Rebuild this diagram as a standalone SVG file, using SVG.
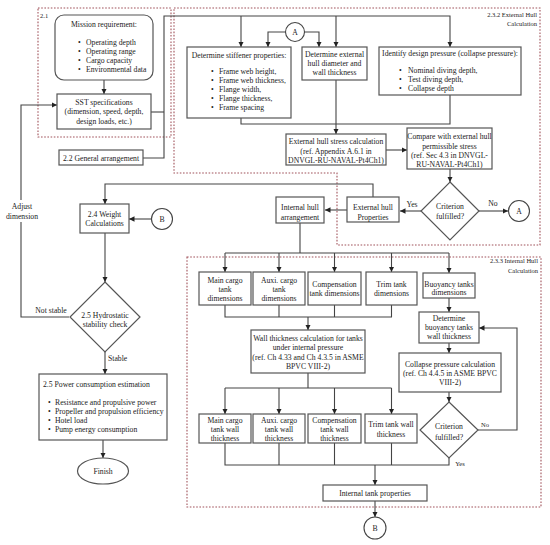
<svg xmlns="http://www.w3.org/2000/svg" width="550" height="545" viewBox="0 0 550 545">
<style>
text{font-family:"Liberation Serif","Times New Roman",serif;font-size:7.7px;fill:#222}
.m{text-anchor:middle}
.e{text-anchor:end}
.box{fill:#fff;stroke:#555;stroke-width:1.2}
.grp{fill:none;stroke:#a0525a;stroke-width:1.1;stroke-dasharray:1.6,1.6}
.ln{fill:none;stroke:#444;stroke-width:1.1}
.arr{fill:none;stroke:#444;stroke-width:1.1;marker-end:url(#ah)}
.sm{font-size:6.5px}
</style>
<defs>
<marker id="ah" viewBox="0 0 10 10" refX="10" refY="5" markerWidth="5.5" markerHeight="5.5" markerUnits="userSpaceOnUse" orient="auto"><path d="M0,0 L10,5 L0,10 z" fill="#222"/></marker>
</defs>
<rect width="550" height="545" fill="#fff"/>

<g id="groups">
<rect class="grp" x="38" y="8" width="133" height="129"/>
<path class="grp" d="M174,8 H540 V245 H337 V173 H174 Z"/>
<rect class="grp" x="187" y="257" width="354" height="250"/>
<text class="sm" x="40" y="17.5">2.1</text>
<text class="sm e" x="537" y="16.7">2.3.2 External Hull</text>
<text class="sm e" x="537" y="26">Calculation</text>
<text class="sm e" x="538" y="263.4">2.3.3 Internal Hull</text>
<text class="sm e" x="538" y="273.4">Calculation</text>
</g>

<g id="connectors">
<path class="arr" d="M104,80 V94"/>
<path class="arr" d="M69,317 H21 V105 H57"/>
<path class="ln" d="M151,112 H164"/>
<path class="arr" d="M143,158 H164 V16 H450 V47"/>
<path class="arr" d="M241,16 V47"/>
<path class="arr" d="M336,16 V47"/>
<path class="arr" d="M285.5,32 H268 V47"/>
<path class="arr" d="M304.5,32 H319 V47"/>
<path class="ln" d="M241,118 V124 H450 V95"/>
<path class="arr" d="M336,80 V134"/>
<path class="arr" d="M386,150 H407"/>
<path class="arr" d="M450,168 V182"/>
<path class="arr" d="M421,211 H400"/>
<path class="arr" d="M479,211 H508"/>
<path class="arr" d="M373,197 V184 H105 V204"/>
<path class="arr" d="M347,210 H325"/>
<path class="ln" d="M300,223 V253 M225,253 H449"/>
<path class="arr" d="M225,253 V272"/>
<path class="arr" d="M279,253 V272"/>
<path class="arr" d="M334.5,253 V272"/>
<path class="arr" d="M391.5,253 V272"/>
<path class="arr" d="M449,253 V273"/>
<path class="ln" d="M225,305 V317 H391.5 V305 M279,305 V317 M334.5,305 V317"/>
<path class="arr" d="M308,317 V330"/>
<path class="ln" d="M308,373 V388 M225,388 H391.5"/>
<path class="arr" d="M225,388 V414"/>
<path class="arr" d="M279,388 V414"/>
<path class="arr" d="M334.5,388 V414"/>
<path class="arr" d="M391.5,388 V414"/>
<path class="ln" d="M225,443 V465 H449 V458 M279,443 V465 M334.5,443 V465 M391.5,443 V465"/>
<path class="arr" d="M375,465 V485"/>
<path class="arr" d="M375,501 V517"/>
<path class="arr" d="M449,298 V312"/>
<path class="arr" d="M449,343 V353"/>
<path class="arr" d="M449,392 V402"/>
<path class="arr" d="M478,430 H517 V328 H479"/>
<path class="arr" d="M151,219 H129"/>
<path class="arr" d="M105,233 V282"/>
<path class="arr" d="M105,352 V374"/>
<path class="arr" d="M103,440 V458"/>
<rect x="6" y="200" width="32" height="22" fill="#fff"/>
<text class="m" x="22" y="209.4">Adjust</text>
<text class="m" x="22" y="219.4">dimension</text>
<text class="m" x="51" y="312.7">Not stable</text>
<text x="108" y="360.5">Stable</text>
<text class="m" x="412" y="206.5">Yes</text>
<text class="m" x="493" y="205.7">No</text>
<text class="sm m" x="485" y="426.5">No</text>
<text class="sm m" x="460" y="465.5">Yes</text>
</g>

<g id="mission">
<rect class="box" x="55" y="15" width="98" height="65" rx="9"/>
<text class="m" x="104" y="27">Mission requirement:</text>
<text x="78" y="44.5">•</text><text x="86" y="44.5">Operating depth</text>
<text x="78" y="53.5">•</text><text x="86" y="53.5">Operating range</text>
<text x="78" y="62.5">•</text><text x="86" y="62.5">Cargo capacity</text>
<text x="78" y="71.5">•</text><text x="86" y="71.5">Environmental data</text>
</g>

<g id="sst">
<rect class="box" x="57" y="94" width="94" height="35"/>
<text class="m" x="104" y="104.5">SST specifications</text>
<text class="m" x="104" y="114">(dimension, speed, depth,</text>
<text class="m" x="104" y="123.5">design loads, etc.)</text>
</g>

<g id="general">
<rect class="box" x="59" y="150" width="84" height="15"/>
<text class="m" x="101" y="160.7">2.2 General arrangement</text>
</g>

<g id="connA1">
<circle cx="295" cy="32" r="9.5" fill="#fff" stroke="#444" stroke-width="1.1"/>
<text class="m" x="295" y="34.7">A</text>
</g>

<g id="stiffener">
<rect class="box" x="187" y="47" width="104" height="71"/>
<text class="m" x="239" y="57.5">Determine stiffener properties:</text>
<text x="211" y="73.5">•</text><text x="219" y="73.5">Frame web height,</text>
<text x="211" y="82.6">•</text><text x="219" y="82.6">Frame web thickness,</text>
<text x="211" y="91.7">•</text><text x="219" y="91.7">Flange width,</text>
<text x="211" y="100.8">•</text><text x="219" y="100.8">Flange thickness,</text>
<text x="211" y="109.9">•</text><text x="219" y="109.9">Frame spacing</text>
</g>

<g id="extdiam">
<rect class="box" x="302" y="47" width="65" height="33"/>
<text class="m" x="334.5" y="57">Determine external</text>
<text class="m" x="334.5" y="66">hull diameter and</text>
<text class="m" x="334.5" y="75.3">wall thickness</text>
</g>

<g id="designpressure">
<rect class="box" x="379" y="47" width="142" height="48"/>
<text class="m" x="450" y="56">Identify design pressure (collapse pressure):</text>
<text x="399" y="72.7">•</text><text x="408" y="72.7">Nominal diving depth,</text>
<text x="399" y="82">•</text><text x="408" y="82">Test diving depth,</text>
<text x="399" y="91.4">•</text><text x="408" y="91.4">Collapse depth</text>
</g>

<g id="extstress">
<rect class="box" x="286" y="134" width="100" height="31"/>
<text class="m" x="336" y="144.4">External hull stress calculation</text>
<text class="m" x="336" y="153.7">(ref. Appendix A.6.1 in</text>
<text class="m" x="336" y="162.7">DNVGL-RU-NAVAL-Pt4Ch1)</text>
</g>

<g id="compare">
<rect class="box" x="407" y="128" width="85" height="41"/>
<text class="m" x="449.5" y="139.4">Compare with external hull</text>
<text class="m" x="449.5" y="148.7">permissible stress</text>
<text class="m" x="449.5" y="157.7">(ref. Sec 4.3 in DNVGL-</text>
<text class="m" x="449.5" y="167">RU-NAVAL-Pt4Ch1)</text>
</g>

<g id="criterion1">
<polygon class="box" points="450,182 479,211 450,240 421,211"/>
<text class="m" x="450" y="208.7">Criterion</text>
<text class="m" x="450" y="219">fulfilled?</text>
</g>

<g id="connA2">
<circle cx="519" cy="211" r="10.5" fill="#fff" stroke="#444" stroke-width="1.1"/>
<text class="m" x="519" y="213.7">A</text>
</g>

<g id="extprops">
<rect class="box" x="347" y="197" width="52" height="25"/>
<text class="m" x="373" y="210">External hull</text>
<text class="m" x="373" y="220">Properties</text>
</g>

<g id="intarr">
<rect class="box" x="276" y="197" width="48" height="26"/>
<text class="m" x="300" y="210">Internal hull</text>
<text class="m" x="300" y="220">arrangement</text>
</g>

<g id="weight">
<rect class="box" x="80" y="204" width="49" height="29"/>
<text class="m" x="104.5" y="217">2.4 Weight</text>
<text class="m" x="104.5" y="226">Calculations</text>
</g>

<g id="connB1">
<circle cx="162" cy="219" r="10.5" fill="#fff" stroke="#444" stroke-width="1.1"/>
<text class="m" x="162" y="221.7">B</text>
</g>

<g id="hydro">
<polygon class="box" points="105,282 140,317 105,352 70,317"/>
<text class="m" x="105" y="317.7">2.5 Hydrostatic</text>
<text class="m" x="105" y="326.7">stability check</text>
</g>

<g id="power">
<rect class="box" x="39" y="374" width="128" height="66"/>
<text x="43" y="386.5">2.5 Power consumption estimation</text>
<text x="48" y="404.5">•</text><text x="55" y="404.5">Resistance and propulsive power</text>
<text x="48" y="413.5">•</text><text x="55" y="413.5">Propeller and propulsion efficiency</text>
<text x="48" y="422.7">•</text><text x="55" y="422.7">Hotel load</text>
<text x="48" y="431.5">•</text><text x="55" y="431.5">Pump energy consumption</text>
</g>

<g id="finish">
<ellipse cx="103" cy="471" rx="25.5" ry="13" fill="#fff" stroke="#555" stroke-width="1.2"/>
<text class="m" x="103" y="473.7">Finish</text>
</g>

<g id="maindim">
<rect class="box" x="199" y="272" width="52" height="33"/>
<text class="m" x="225" y="282.7">Main cargo</text>
<text class="m" x="225" y="291.5">tank</text>
<text class="m" x="225" y="300.7">dimensions</text>
</g>
<g id="auxdim">
<rect class="box" x="253" y="272" width="52" height="33"/>
<text class="m" x="279" y="282.7">Auxi. cargo</text>
<text class="m" x="279" y="291.5">tank</text>
<text class="m" x="279" y="300.7">dimensions</text>
</g>
<g id="compdim">
<rect class="box" x="308" y="272" width="53" height="33"/>
<text class="m" x="334.5" y="287">Compensation</text>
<text class="m" x="334.5" y="296">tank dimensions</text>
</g>
<g id="trimdim">
<rect class="box" x="366" y="272" width="51" height="33"/>
<text class="m" x="391.5" y="287">Trim tank</text>
<text class="m" x="391.5" y="296">dimensions</text>
</g>
<g id="buoydim">
<rect class="box" x="423" y="273" width="52" height="25"/>
<text class="m" x="449" y="286.5">Buoyancy tanks</text>
<text class="m" x="449" y="294.8">dimensions</text>
</g>

<g id="wallcalc">
<rect class="box" x="251" y="330" width="114" height="43"/>
<text class="m" x="308" y="340.5">Wall thickness calculation for tanks</text>
<text class="m" x="308" y="350">under internal pressure</text>
<text class="m" x="308" y="359.5">(ref. Ch 4.33 and Ch 4.3.5 in ASME</text>
<text class="m" x="308" y="368.7">BPVC VIII-2)</text>
</g>

<g id="mainwall">
<rect class="box" x="199" y="414" width="52" height="29"/>
<text class="m" x="225" y="422.7">Main cargo</text>
<text class="m" x="225" y="431.7">tank wall</text>
<text class="m" x="225" y="440.7">thickness</text>
</g>
<g id="auxwall">
<rect class="box" x="253" y="414" width="52" height="29"/>
<text class="m" x="279" y="422.7">Auxi. cargo</text>
<text class="m" x="279" y="431.7">tank wall</text>
<text class="m" x="279" y="440.7">thickness</text>
</g>
<g id="compwall">
<rect class="box" x="308" y="414" width="53" height="29"/>
<text class="m" x="334.5" y="422.7">Compensation</text>
<text class="m" x="334.5" y="431.7">tank wall</text>
<text class="m" x="334.5" y="440.7">thickness</text>
</g>
<g id="trimwall">
<rect class="box" x="365" y="414" width="52" height="29"/>
<text class="m" x="391" y="426.7">Trim tank wall</text>
<text class="m" x="391" y="436.7">thickness</text>
</g>

<g id="buoywall">
<rect class="box" x="419" y="312" width="60" height="31"/>
<text class="m" x="449" y="321">Determine</text>
<text class="m" x="449" y="330">buoyancy tanks</text>
<text class="m" x="449" y="339.4">wall thickness</text>
</g>

<g id="collapse">
<rect class="box" x="399" y="353" width="102" height="39"/>
<text class="m" x="450" y="366.7">Collapse pressure calculation</text>
<text class="m" x="450" y="375.7">(ref. Ch 4.4.5 in ASME BPVC</text>
<text class="m" x="450" y="384.7">VIII-2)</text>
</g>

<g id="criterion2">
<polygon class="box" points="449,402 478,430 449,458 420,430"/>
<text class="m" x="449" y="429.4">Criterion</text>
<text class="m" x="449" y="440">fulfilled?</text>
</g>

<g id="inttank">
<rect class="box" x="323" y="485" width="104" height="16"/>
<text class="m" x="375" y="496.2">Internal tank properties</text>
</g>

<g id="connB2">
<circle cx="375" cy="528" r="11" fill="#fff" stroke="#444" stroke-width="1.1"/>
<text class="m" x="375" y="530.7">B</text>
</g>
</svg>
